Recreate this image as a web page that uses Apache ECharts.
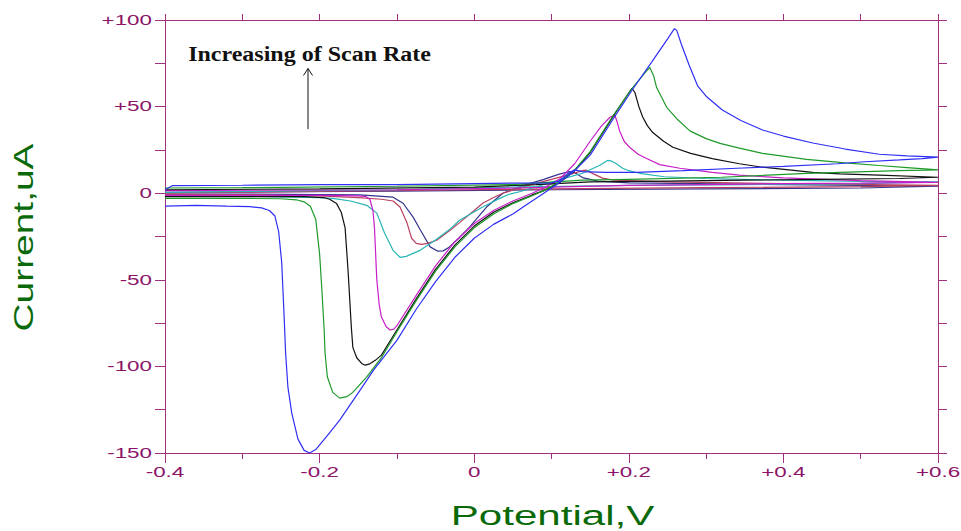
<!DOCTYPE html>
<html>
<head>
<meta charset="utf-8">
<script src="https://cdn.jsdelivr.net/npm/echarts@6/dist/echarts.min.js"></script>
<style>
  html, body { margin: 0; padding: 0; background: #ffffff; }
  #chart { width: 961px; height: 531px; }
</style>
</head>
<body>
<div id="chart"></div>
<script>
// Axis ticks and their printed labels
const xTickValues = [-0.4, -0.2, 0, 0.2, 0.4, 0.6];
const xTickLabels = ['-0.4', '-0.2', '0', '+0.2', '+0.4', '+0.6'];
const yTickValues = [100, 50, 0, -50, -100, -150];
const yTickLabels = ['+100', '+50', '0', '-50', '-100', '-150'];

// Cyclic voltammograms, [potential V, current uA] in scan order (forward sweep, then return)
const cvRate1 = [ // slowest scan
  [-0.4,-0.5],[-0.3,-0.5],[-0.2,-0.8],[-0.148,-1],[-0.105,-2.3],[-0.092,-5.8],[-0.079,-13.8],[-0.07,-21],
  [-0.057,-31],[-0.047,-33.5],[-0.04,-33.3],[-0.032,-31],[-0.02,-26],[-0.006,-19.6],[0.016,-8],[0.037,0],
  [0.06,4],[0.09,8],[0.11,11],[0.123,12.5],[0.13,12],[0.14,9],[0.16,7],[0.2,6],[0.4,5],[0.6,4],
  [0.5,3],[0.3,2.5],[0.1,2],[-0.1,1.2],[-0.4,0.5]
];
const cvRate2 = [
  [-0.4,-1],[-0.3,-1],[-0.2,-1.5],[-0.15,-2.5],[-0.12,-3.5],[-0.105,-4.5],[-0.096,-8],[-0.087,-17],
  [-0.081,-26],[-0.075,-29],[-0.068,-29.5],[-0.06,-29],[-0.048,-27],[-0.03,-21],[-0.019,-17],[0,-10],
  [0.011,-5.8],[0.025,-2.5],[0.037,0],[0.07,4.5],[0.1,8],[0.125,11],[0.14,13],[0.145,13.3],[0.155,11],
  [0.166,8.7],[0.18,7.5],[0.25,6.5],[0.4,5.5],[0.6,4.5],
  [0.5,3.8],[0.3,3.2],[0.1,2.5],[0,2],[-0.2,1],[-0.4,0]
];
const cvRate3 = [
  [-0.4,-1.7],[-0.3,-1.8],[-0.2,-2.5],[-0.183,-3],[-0.16,-4.5],[-0.139,-7],[-0.126,-11.5],[-0.116,-23],
  [-0.105,-33],[-0.096,-37],[-0.088,-36.5],[-0.07,-33],[-0.05,-27],[-0.032,-21],[-0.019,-15.6],[0.011,-8],
  [0.033,-3],[0.046,-0.5],[0.06,1],[0.09,5],[0.12,9],[0.14,11.5],[0.162,16],[0.173,19],[0.178,18.5],
  [0.184,17],[0.192,14.4],[0.2,13],[0.214,11.5],[0.246,9.5],[0.3,8.5],[0.4,7.5],[0.5,6.8],[0.6,6.5],
  [0.5,5.5],[0.35,5],[0.2,4.5],[0.05,3.5],[-0.1,2],[-0.4,0.5]
];
const cvRate4 = [
  [-0.4,-1.2],[-0.3,-1.2],[-0.2,-1.3],[-0.15,-1.5],[-0.14,-2],[-0.135,-3.5],[-0.131,-10],[-0.129,-20],
  [-0.126,-50],[-0.123,-64],[-0.12,-71.5],[-0.114,-77],[-0.109,-79],[-0.104,-78.5],[-0.1,-76.5],
  [-0.075,-59],[-0.05,-42],[-0.025,-28],[0,-17.5],[0.025,-10],[0.05,-4.5],[0.075,0],[0.09,3],[0.11,8],
  [0.13,17],[0.15,30],[0.165,39],[0.176,44],[0.182,45],[0.185,41],[0.188,36],[0.194,30],[0.201,26.5],
  [0.212,22.5],[0.223,20],[0.24,16.5],[0.266,14.4],[0.308,12],[0.343,10.4],[0.4,8.8],[0.5,7.3],[0.6,6.3],
  [0.5,5.8],[0.4,5.5],[0.3,5],[0.2,4.5],[0.1,3.5],[0.05,3],[-0.1,2],[-0.4,1.5]
];
const cvRate5 = [
  [-0.4,-2],[-0.3,-2],[-0.22,-2],[-0.195,-2.5],[-0.187,-3.5],[-0.178,-6],[-0.172,-11],[-0.167,-20],
  [-0.163,-46],[-0.159,-77],[-0.157,-89],[-0.152,-95],[-0.145,-98.5],[-0.141,-99.3],[-0.135,-98.5],
  [-0.128,-96.5],[-0.12,-93.5],[-0.1,-79],[-0.075,-61],[-0.05,-44],[-0.025,-30],[0,-19],[0.025,-11],
  [0.05,-5.5],[0.075,-1],[0.09,1.5],[0.11,6],[0.13,13],[0.15,23.5],[0.18,44.5],[0.2,58],[0.204,60.6],
  [0.208,58],[0.213,50],[0.218,44],[0.224,39],[0.231,35],[0.245,30],[0.257,26.5],[0.28,23],[0.308,20],
  [0.343,17],[0.373,15],[0.438,12],[0.473,11.2],[0.524,10.4],[0.6,9.2],
  [0.55,8.5],[0.45,8],[0.35,7.5],[0.25,7],[0.15,6.5],[0.08,5],[0,3.5],[-0.2,2.5],[-0.4,2]
];
const cvRate6 = [
  [-0.4,-3],[-0.3,-3],[-0.25,-3.2],[-0.23,-3.8],[-0.22,-5],[-0.212,-7.5],[-0.205,-15],[-0.2,-35],
  [-0.197,-56],[-0.194,-80],[-0.193,-92],[-0.19,-106],[-0.183,-115],[-0.174,-118.3],[-0.165,-117.5],
  [-0.157,-115],[-0.139,-106],[-0.12,-95],[-0.1,-80],[-0.075,-62],[-0.05,-45],[-0.025,-31],[0,-20],
  [0.025,-12],[0.05,-6],[0.075,-1.5],[0.09,1.5],[0.11,6.5],[0.13,13.5],[0.15,24],[0.18,45],[0.205,61],
  [0.22,69],[0.227,72.7],[0.232,68],[0.236,61],[0.249,49.6],[0.262,43],[0.279,36],[0.3,31.5],
  [0.318,28.8],[0.343,26],[0.373,23],[0.43,19.5],[0.48,17.5],[0.524,16],[0.56,14.8],[0.6,13.5],
  [0.55,13],[0.43,11.5],[0.32,9.2],[0.2,8],[0.14,7.5],[0.05,5],[-0.1,4],[-0.3,3.2],[-0.4,3]
];
const cvRate7 = [ // fastest scan
  [-0.4,-7.5],[-0.36,-7],[-0.32,-7.5],[-0.29,-7.8],[-0.275,-8.5],[-0.265,-10],[-0.258,-13],[-0.253,-22],
  [-0.249,-40],[-0.246,-70],[-0.244,-92],[-0.241,-112],[-0.236,-127],[-0.228,-142],[-0.22,-148.5],
  [-0.213,-150],[-0.205,-148],[-0.19,-140],[-0.174,-131],[-0.148,-114],[-0.13,-102],[-0.1,-85],
  [-0.075,-67],[-0.05,-51],[-0.025,-37],[0,-26],[0.025,-18],[0.05,-12],[0.07,-6],[0.09,0],[0.11,6],
  [0.13,13],[0.15,22],[0.18,43],[0.205,60],[0.23,76],[0.25,89],[0.259,95],[0.262,94],[0.268,86],
  [0.278,74],[0.289,62],[0.3,56],[0.321,48],[0.345,42],[0.373,36.5],[0.4,33],[0.438,29],[0.48,25.5],
  [0.524,22.5],[0.56,21.5],[0.6,20.8],
  [0.58,20],[0.55,19.2],[0.5,18],[0.47,17],[0.4,15.5],[0.34,14.4],[0.27,13],[0.21,12],[0.17,12],
  [0.14,12.5],[0.13,13.5],[0.12,11],[0.11,7],[0.1,6],[0.05,5.8],[0,5.5],[-0.1,5],[-0.2,5],[-0.3,4.6],
  [-0.39,4.4],[-0.4,2]
];

const traceData = [cvRate1, cvRate2, cvRate3, cvRate4, cvRate5, cvRate6, cvRate7];
const traceColors = ['#35358f', '#b8405e', '#27b5b5', '#c81ec8', '#111111', '#1e9a2a', '#2f2ff5'];

const AXIS = '#a0307f';
const LABEL = '#8b1468';
const TITLE = '#0a6a0a';
const TICK_FONT = '14px "Liberation Sans", Arial, sans-serif';
const TITLE_FONT = '27px "Liberation Sans", Arial, sans-serif';

function axisBase(extra) {
  return Object.assign({
    type: 'value',
    axisLine: { show: true, onZero: false, lineStyle: { color: AXIS, width: 1 } },
    axisTick: { show: true, inside: false, lineStyle: { color: AXIS, width: 1 } },
    axisLabel: { show: false },
    splitLine: { show: false }
  }, extra);
}

const chart = echarts.init(document.getElementById('chart'), null, { renderer: 'svg' });

chart.setOption({
  animation: false,
  backgroundColor: '#ffffff',
  grid: { left: 165, right: 23, top: 20, bottom: 78, containLabel: false },
  xAxis: [
    axisBase({ position: 'bottom', min: -0.4, max: 0.6, interval: 0.2,
      axisTick: { show: true, inside: false, length: 10, lineStyle: { color: AXIS } },
      minorTick: { show: true, splitNumber: 2, length: 6, lineStyle: { color: AXIS } } }),
    axisBase({ position: 'top', min: -0.4, max: 0.6, interval: 0.1,
      axisTick: { show: true, inside: false, length: 6, lineStyle: { color: AXIS } } })
  ],
  yAxis: [
    axisBase({ position: 'left', min: -150, max: 100, interval: 25,
      axisTick: { show: true, inside: false, length: 10, lineStyle: { color: AXIS } } }),
    axisBase({ position: 'right', min: -150, max: 100, interval: 25,
      axisTick: { show: true, inside: false, length: 9, lineStyle: { color: AXIS } } })
  ],
  series: traceData.map((d, i) => ({
    type: 'line',
    xAxisIndex: 0,
    yAxisIndex: 0,
    data: d,
    showSymbol: false,
    symbol: 'none',
    smooth: false,
    lineStyle: { color: traceColors[i], width: 1.2 },
    emphasis: { disabled: true },
    z: 2 + i
  }))
});

// Tick labels, axis titles and the annotation arrow, placed through the axis scales
const toPx = (x, y) => chart.convertToPixel({ gridIndex: 0 }, [x, y]);
const xMin = -0.4, yMin = -150;
const graphics = [];

xTickValues.forEach((v, i) => {
  const p = toPx(v, yMin);
  graphics.push({ type: 'text', x: p[0], y: p[1] + 19, scaleX: 1.6, silent: true,
    style: { text: xTickLabels[i], font: TICK_FONT, fill: LABEL, align: 'center', verticalAlign: 'middle' } });
});
yTickValues.forEach((v, i) => {
  const p = toPx(xMin, v);
  graphics.push({ type: 'text', x: p[0] - 13, y: p[1], scaleX: 1.6, silent: true,
    style: { text: yTickLabels[i], font: TICK_FONT, fill: LABEL, align: 'right', verticalAlign: 'middle' } });
});

// Axis titles
const bottomMid = toPx(0.1, yMin);
graphics.push({ type: 'text', x: bottomMid[0] + 1, y: bottomMid[1] + 62, scaleX: 1.56, silent: true,
  style: { text: 'Potential,V', font: TITLE_FONT, fill: TITLE, align: 'center', verticalAlign: 'middle' } });
const leftMid = toPx(xMin, -25);
graphics.push({ type: 'text', x: 24, y: leftMid[1] + 1, rotation: Math.PI / 2, scaleX: 1.44, silent: true,
  style: { text: 'Current,uA', font: TITLE_FONT, fill: TITLE, align: 'center', verticalAlign: 'middle' } });

// Annotation with upward arrow
const noteAt = toPx(-0.37, 80.5);
graphics.push({ type: 'text', x: noteAt[0], y: noteAt[1], scaleX: 1.2, silent: true,
  style: { text: 'Increasing of Scan Rate', font: 'bold 20px "Liberation Serif", "Times New Roman", serif',
    fill: '#111111', align: 'left', verticalAlign: 'middle' } });
const arrowBase = toPx(-0.215, 37);
const arrowTip = toPx(-0.215, 72);
graphics.push({ type: 'line', silent: true,
  shape: { x1: arrowBase[0], y1: arrowBase[1], x2: arrowTip[0], y2: arrowTip[1] },
  style: { stroke: '#111111', lineWidth: 1 } });
graphics.push({ type: 'polyline', silent: true,
  shape: { points: [[arrowTip[0] - 4.5, arrowTip[1] + 7], [arrowTip[0], arrowTip[1]], [arrowTip[0] + 4.5, arrowTip[1] + 7]] },
  style: { stroke: '#111111', lineWidth: 1, fill: 'none' } });

chart.setOption({ graphic: graphics });
</script>
</body>
</html>
